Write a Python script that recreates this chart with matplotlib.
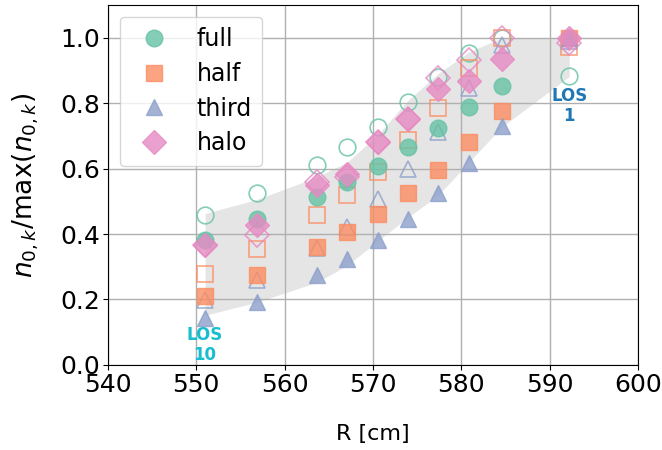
import matplotlib
matplotlib.use("Agg")
import matplotlib.pyplot as plt
import numpy as np

# major radius of each line of sight, LOS 10 ... LOS 1
R = [551.0, 556.9, 563.7, 567.1, 570.6, 574.0, 577.4, 580.9, 584.6, 592.2]

# normalised densities, filled = measured, open = model
full = [0.381, 0.447, 0.514, 0.560, 0.608, 0.667, 0.723, 0.787, 0.852, 1.0]
half = [0.210, 0.274, 0.361, 0.407, 0.461, 0.526, 0.595, 0.680, 0.777, 1.0]
third = [0.143, 0.192, 0.274, 0.325, 0.381, 0.447, 0.524, 0.618, 0.730, 1.0]
halo = [0.368, 0.427, 0.549, 0.582, 0.680, 0.750, 0.842, 0.868, 0.934, 1.0]

full_m = [0.459, 0.524, 0.611, 0.665, 0.728, 0.804, 0.881, 0.952, 1.0, 0.883]
half_m = [0.279, 0.353, 0.458, 0.519, 0.590, 0.687, 0.784, 0.907, 1.0, 0.971]
third_m = [0.197, 0.259, 0.358, 0.422, 0.506, 0.600, 0.713, 0.845, 0.978, 0.99]
halo_m = [0.368, 0.396, 0.560, 0.575, 0.680, 0.750, 0.876, 0.932, 1.0, 0.983]

# uncertainty band
band_lo = [0.152, 0.192, 0.253, 0.305, 0.380, 0.452, 0.519, 0.621, 0.728, 0.881]
band_hi = [0.463, 0.506, 0.575, 0.620, 0.705, 0.810, 0.891, 0.957, 1.0, 1.0]

labels = ["full", "half", "third", "halo"]
colors = ["#66c2a5", "#fc8d62", "#8da0cb", "#e78ac3"]
markers = ["o", "s", "^", "D"]
sizes = [12, 11, 12, 12]

fig = plt.figure(figsize=(6.62, 4.5), dpi=100)
ax = fig.add_axes([0.163, 0.189, 0.801, 0.80])

ax.grid(True, color="#b0b0b0", linewidth=1.0, zorder=0)
ax.fill_between(R, band_lo, band_hi, color="gray", alpha=0.2, linewidth=0, zorder=1)

meas = [full, half, third, halo]
model = [full_m, half_m, third_m, halo_m]
for lab, c, m, s, y, ym in zip(labels, colors, markers, sizes, meas, model):
    ax.plot(R, ym, linestyle="none", marker=m, ms=s, mfc="none", mec=c,
            mew=1.2, alpha=0.8, zorder=2)
    ax.plot(R, y, linestyle="none", marker=m, ms=s, color=c, mec=c,
            alpha=0.8, label=lab, zorder=3)

ax.text(R[0], 0.06, "LOS\n10", color="#17becf", fontsize=12, fontweight="bold",
        ha="center", va="center", linespacing=1.15, zorder=4)
ax.text(R[-1], 0.79, "LOS\n1", color="#1f77b4", fontsize=12, fontweight="bold",
        ha="center", va="center", linespacing=1.15, zorder=4)

ax.set_xlim(540, 600)
ax.set_ylim(0, 1.1)
ax.set_xticks(np.arange(540, 601, 10))
ax.set_yticks(np.arange(0, 1.01, 0.2))
ax.tick_params(labelsize=18, pad=2)
ax.set_xlabel("R [cm]", fontsize=16, labelpad=20)
ax.set_ylabel(r"$n_{0,k}/\max(n_{0,k})$", fontsize=19, labelpad=14)

ax.legend(loc="upper left", fontsize=17, handletextpad=0.8, borderpad=0.45,
          labelspacing=0.45, handlelength=2.0, borderaxespad=0.5)

fig.savefig("out.png", dpi=100)
